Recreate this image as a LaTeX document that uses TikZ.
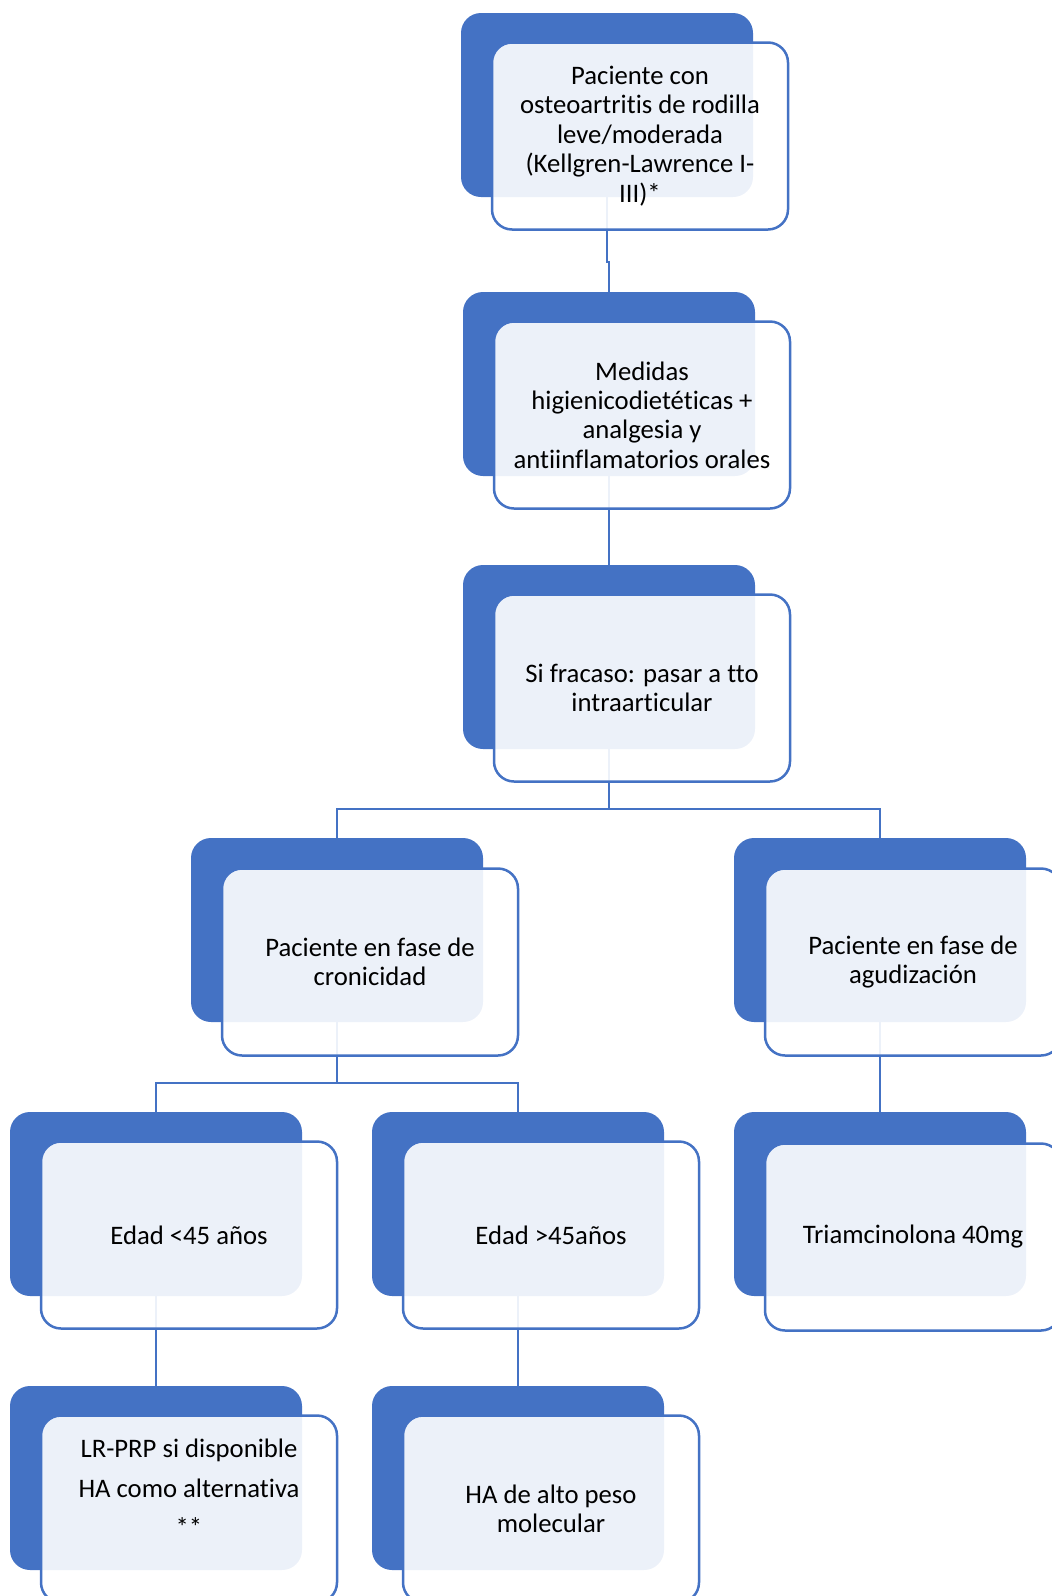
\documentclass[tikz,border=0pt]{standalone}
\usepackage{fontspec}
\setmainfont[Ligatures={NoCommon}]{Carlito}
\definecolor{accent}{HTML}{4472C4}
\begin{document}
\begin{tikzpicture}[x=1pt,y=-1pt,
  back/.style={fill=accent,draw=none,rounded corners=20pt,minimum width=292pt,minimum height=184pt,inner sep=0pt},
  front/.style={fill=white,fill opacity=0.9,text opacity=1,draw=accent,draw opacity=1,line width=2.5pt,rounded corners=20pt,minimum width=296pt,minimum height=187pt,inner sep=0pt,align=center,font=\fontsize{26.7}{29.4}\selectfont},
  txt/.style={align=center,inner sep=0pt,font=\fontsize{26.7}{29.4}\selectfont},
  link/.style={draw=accent,line width=2.5pt}]
\useasboundingbox (0,0) rectangle (1052,1596);
\clip (0,0) rectangle (1052,1596);
% back boxes
\node[back] (n1b) at (607,105) {};
\node[back] (n2b) at (609,384) {};
\node[back] (n3b) at (609,657) {};
\node[back] (n4b) at (337,930) {};
\node[back] (n5b) at (880,930) {};
\node[back] (n6b) at (156,1204) {};
\node[back] (n7b) at (518,1204) {};
\node[back] (n8b) at (880,1204) {};
\node[back] (n9b) at (156,1478) {};
\node[back] (n10b) at (518,1478) {};
% connectors
\draw[link] (n1b.south) -- ++(0,65) -| (n2b.north);
\draw[link] (n2b.south) -- (n3b.north);
\draw[link] (n3b.south) -- ++(0,60) coordinate (j1);
\draw[link] (j1) -| (n4b.north);
\draw[link] (j1) -| (n5b.north);
\draw[link] (n4b.south) -- ++(0,61) coordinate (j2);
\draw[link] (j2) -| (n6b.north);
\draw[link] (j2) -| (n7b.north);
\draw[link] (n5b.south) -- (n8b.north);
\draw[link] (n6b.south) -- (n9b.north);
\draw[link] (n7b.south) -- (n10b.north);
% front boxes
\node[front] (n1) at (640,136) {Paciente con\\osteoartritis de rodilla\\leve/moderada\\(Kellgren-Lawrence I-\\III)*};
\node[front] (n2) at (642,415) {Medidas\\higienicodietéticas +\\analgesia y\\antiinflamatorios orales};
\node[front] (n3) at (642,688) {Si fracaso: pasar a tto\\intraarticular};
\node[front] (n4) at (370,962) {Paciente en fase de\\cronicidad};
\node[front] (n5) at (913,962) {Paciente en fase de\\agudización};
\node[front] (n6) at (189,1235) {Edad <45 años};
\node[front] (n7) at (551,1235) {Edad >45años};
\node[front] (n8) at (913,1237) {Triamcinolona 40mg};
\node[front] (n9) at (189,1509) {};
\node[txt] (n9t) at (189,1488) {LR-PRP si disponible\\[10pt]HA como alternativa\\[10pt]**};
\node[front] (n10) at (551,1509) {HA de alto peso\\molecular};
\end{tikzpicture}
\end{document}
